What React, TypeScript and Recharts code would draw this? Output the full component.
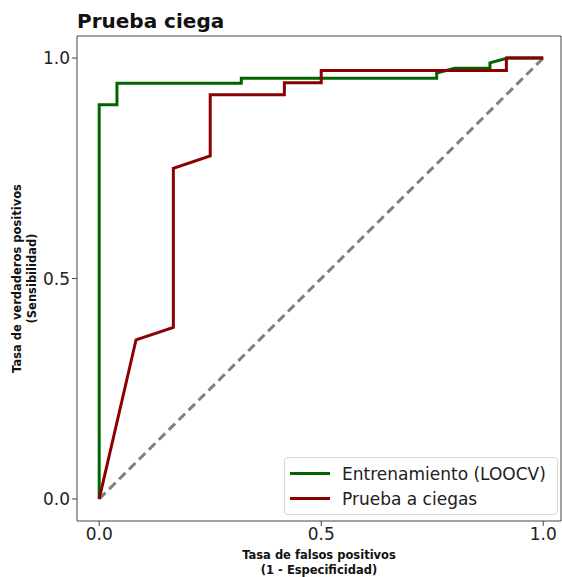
import { LineChart, Line, XAxis, YAxis, ReferenceLine, Label } from 'recharts';

const trainFpr = [0, 0, 0.04, 0.04, 0.32, 0.32, 0.76, 0.76, 0.8, 0.88, 0.88, 0.92, 1];
const trainTpr = [0, 0.894, 0.894, 0.943, 0.943, 0.954, 0.954, 0.966, 0.977, 0.977, 0.989, 1, 1];

const blindFpr = [0, 0.083, 0.167, 0.167, 0.25, 0.25, 0.417, 0.417, 0.5, 0.5, 0.917, 0.917, 1];
const blindTpr = [0, 0.361, 0.389, 0.75, 0.778, 0.917, 0.917, 0.944, 0.944, 0.972, 0.972, 1, 1];

const chanceX = [0, 1];
const chanceY = [0, 1];

const ticks = [0, 0.5, 1];

const zip = (xs: number[], ys: number[]) => xs.map((x, i) => ({ x, y: ys[i] }));

const FONT = 'DejaVu Sans, sans-serif';
const SPINE = '#444';

const seriesInfo = [
  { name: 'Entrenamiento (LOOCV)', color: '#006400' },
  { name: 'Prueba a ciegas', color: '#8b0000' },
];

// legend drawn as an overlay so it doesn't steal plot height
function RocLegend() {
  return (
    <div
      style={{
        position: 'absolute',
        left: 284,
        top: 457,
        width: 274,
        boxSizing: 'border-box',
        border: '1px solid #d8d8d8',
        borderRadius: 4,
        background: 'rgba(255,255,255,0.85)',
        padding: '3px 6px 3px 5px',
        fontFamily: FONT,
        fontSize: 17,
        color: '#222',
      }}
    >
      {seriesInfo.map((s) => (
        <div key={s.name} style={{ display: 'flex', alignItems: 'center', height: 25 }}>
          <span style={{ display: 'inline-block', width: 40, height: 3, background: s.color, marginRight: 12 }} />
          <span>{s.name}</span>
        </div>
      ))}
    </div>
  );
}

export default function App() {
  const fmt = (v: number) => v.toFixed(1);
  return (
    <div style={{ position: 'absolute', left: 0, top: 0, width: 562, height: 577, background: '#fff' }}>
      <div
        style={{
          position: 'absolute',
          left: 77,
          top: 9,
          fontFamily: FONT,
          fontWeight: 'bold',
          fontSize: 20,
          color: '#111',
        }}
      >
        Prueba ciega
      </div>
      <LineChart width={562} height={577} margin={{ top: 36, right: 1, bottom: 0, left: 0 }}>
        <XAxis
          type="number"
          dataKey="x"
          domain={[-0.05, 1.04]}
          ticks={ticks}
          tickFormatter={fmt}
          height={56}
          stroke={SPINE}
          tickSize={5}
          tick={{ fill: '#222', fontSize: 17, fontFamily: FONT }}
          allowDataOverflow
        >
          <Label
            position="insideBottom"
            offset={0}
            content={({ viewBox }: any) => {
              const cx = viewBox.x + viewBox.width / 2;
              return (
                <text textAnchor="middle" fontFamily={FONT} fontWeight="bold" fontSize={11.5} fill="#111">
                  <tspan x={cx} y={559}>Tasa de falsos positivos</tspan>
                  <tspan x={cx} y={574}>(1 - Especificidad)</tspan>
                </text>
              );
            }}
          />
        </XAxis>
        <YAxis
          type="number"
          dataKey="y"
          domain={[-0.05, 1.05]}
          ticks={ticks}
          tickFormatter={fmt}
          width={77}
          stroke={SPINE}
          tickSize={5}
          tick={{ fill: '#222', fontSize: 17, fontFamily: FONT }}
          allowDataOverflow
        >
          <Label
            content={({ viewBox }: any) => {
              const cy = viewBox.y + viewBox.height / 2;
              return (
                <text
                  textAnchor="middle"
                  fontFamily={FONT}
                  fontWeight="bold"
                  fontSize={11.5}
                  fill="#111"
                  transform={`rotate(-90, 21, ${cy})`}
                >
                  <tspan x={21} y={cy}>Tasa de verdaderos positivos</tspan>
                  <tspan x={21} y={cy + 15}>(Sensibilidad)</tspan>
                </text>
              );
            }}
          />
        </YAxis>
        <ReferenceLine y={1.05} stroke={SPINE} strokeWidth={1} ifOverflow="extendDomain" />
        <ReferenceLine x={1.04} stroke={SPINE} strokeWidth={1} ifOverflow="extendDomain" />
        <Line
          data={zip(chanceX, chanceY)}
          dataKey="y"
          type="linear"
          stroke="#808080"
          strokeWidth={3}
          strokeDasharray="9 5"
          dot={false}
          isAnimationActive={false}
        />
        <Line
          data={zip(trainFpr, trainTpr)}
          dataKey="y"
          name={seriesInfo[0].name}
          type="linear"
          stroke={seriesInfo[0].color}
          strokeWidth={3}
          dot={false}
          isAnimationActive={false}
        />
        <Line
          data={zip(blindFpr, blindTpr)}
          dataKey="y"
          name={seriesInfo[1].name}
          type="linear"
          stroke={seriesInfo[1].color}
          strokeWidth={3}
          dot={false}
          isAnimationActive={false}
        />
      </LineChart>
      <RocLegend />
    </div>
  );
}
